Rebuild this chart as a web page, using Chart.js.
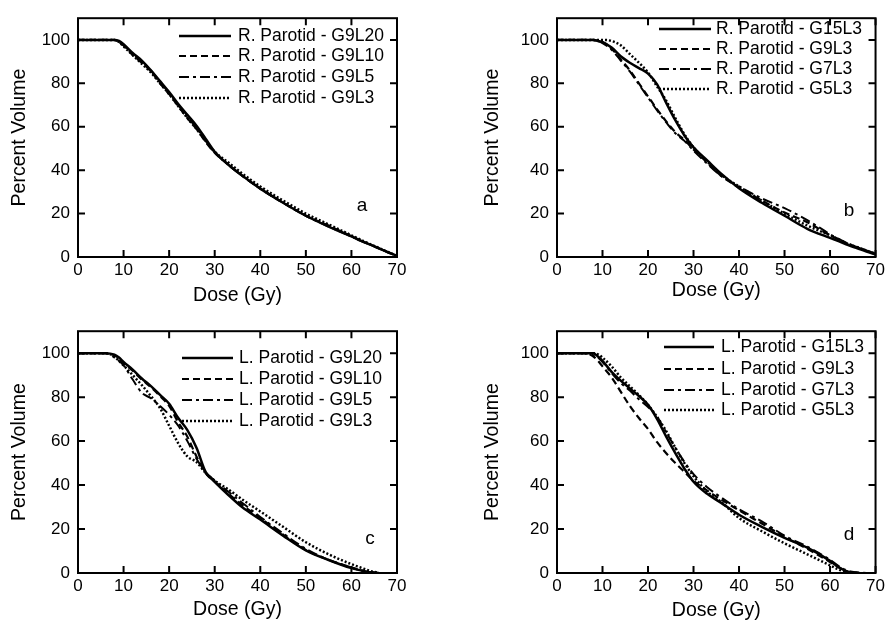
<!DOCTYPE html>
<html>
<head>
<meta charset="utf-8">
<script src="https://cdn.jsdelivr.net/npm/chart.js@4.4.1/dist/chart.umd.min.js"></script>
<style>
  html, body { margin: 0; padding: 0; background: #fff; }
  #wrap { position: relative; width: 888px; height: 626px; }
  canvas { position: absolute; }
</style>
</head>
<body>
<div id="wrap">
  <canvas id="pa" width="444" height="313" style="left:0;top:0"></canvas>
  <canvas id="pb" width="444" height="313" style="left:444px;top:0"></canvas>
  <canvas id="pc" width="444" height="313" style="left:0;top:313px"></canvas>
  <canvas id="pd" width="444" height="313" style="left:444px;top:313px"></canvas>
</div>
<script>
// dose grid (Gy) shared by every curve
const dose = [0, 6, 8, 9, 10, 12, 14, 16, 18, 20, 22, 24, 26, 28, 30, 33, 36, 40, 45, 50, 55, 60, 62, 64, 66, 68, 70];

// panel a - right parotid, leaf width varied
const aG9L20 = [100, 100, 100, 99.5, 98, 94, 90.5, 86, 81, 76, 70.5, 65.5, 60.5, 54.5, 48.5, 42.5, 37.5, 31.5, 25, 19, 14, 9.5, 7.5, 5.8, 4, 2.2, 0.5];
const aG9L10 = [100, 100, 100, 99, 97.5, 93, 89.5, 85.5, 80, 75, 69.5, 64, 59, 53, 48, 42.5, 37.5, 31.5, 25, 19, 14.5, 9.5, 7.5, 5.8, 4, 2.2, 0.5];
const aG9L5 = [100, 100, 100, 99, 97.5, 93.5, 90, 86, 80.5, 75.5, 70, 64.5, 59.5, 53.5, 48, 42.5, 37.5, 31.5, 25, 19, 14, 9.5, 7.5, 5.8, 4, 2.2, 0.5];
const aG9L3 = [100, 100, 100, 99, 97, 93, 89, 85, 80, 75, 69.5, 64, 59, 53.5, 48.5, 43.5, 38.5, 32.5, 26, 20, 15, 10, 8, 6, 4.2, 2.3, 0.5];

// panel b - right parotid, gantry angles varied
const bG15L3 = [100, 100, 100, 99.5, 99, 96.5, 92.5, 89.5, 87, 84.5, 79.5, 71, 63, 56, 50.5, 44.5, 38.5, 31.7, 25, 19, 13, 8.8, 7.2, 5.5, 4, 2.5, 1.2];
const bG9L3 = [100, 100, 100, 99.5, 99, 96, 91, 86, 80, 74, 68, 62.5, 57.5, 54, 49.5, 43.5, 37.5, 32, 26, 20.5, 16, 10, 8, 6, 4.5, 3, 1.5];
const bG7L3 = [100, 100, 100, 99.5, 98.5, 95.5, 90.5, 85.5, 79.5, 73.5, 67.5, 62, 57, 53.5, 49, 43, 37.5, 32.5, 27, 22.5, 17, 10.5, 8.2, 6.2, 4.5, 3, 1.5];
const bG5L3 = [100, 100, 100, 100, 100, 99.5, 97.5, 93.5, 89.5, 85, 78.5, 72, 64, 56.5, 50.5, 44, 38, 32.5, 26, 20, 14.5, 10, 8, 6, 4.5, 3, 1.5];

// panel c - left parotid, leaf width varied
const cG9L20 = [100, 100, 99.3, 98, 96, 92.5, 88.5, 85, 81, 77, 70.5, 65, 57, 46, 41.5, 35.5, 30, 24.3, 17, 10.3, 5.9, 2.2, 1.2, 0.3, 0, null, null];
const cG9L10 = [100, 100, 99, 97.5, 95.5, 92, 88, 84.5, 80.5, 76, 68.5, 62, 53, 45.5, 41.5, 36, 31, 25, 17.5, 10.5, 6, 2.5, 1.2, 0.4, 0, null, null];
const cG9L5 = [100, 100, 98, 96.5, 94.5, 88, 82, 79.5, 76, 72, 67, 60, 52, 46, 42, 37, 32, 25.5, 18, 11, 6, 2.5, 1.3, 0.4, 0, null, null];
const cG9L3 = [100, 100, 98.5, 96.5, 94.5, 90, 85.5, 80.5, 75, 67, 59, 53, 50.5, 45.5, 42, 38, 33.5, 28, 21, 14, 8.5, 4, 2.5, 1, 0, null, null];

// panel d - left parotid, gantry angles varied
const dG15L3 = [100, 100, 100, 98.5, 96.5, 91.5, 87.5, 84, 80.5, 76.5, 70, 62, 54.5, 47.5, 41.5, 36, 32, 26.5, 21, 16, 11.5, 5.5, 2.5, 0.5, 0, null, null];
const dG9L3 = [100, 100, 98.5, 96.5, 94, 89, 82.5, 76, 70.5, 65.5, 59.5, 54.5, 50, 46, 42, 37.5, 33.5, 28.5, 22.5, 16.5, 11, 5, 2.5, 0.5, 0, null, null];
const dG7L3 = [100, 100, 99, 98, 96, 91, 86.5, 83, 79, 75.5, 71, 64, 57, 50.5, 45, 39, 34.5, 29, 23.5, 17, 12, 6, 3, 1, 0.3, 0, null];
const dG5L3 = [100, 100, 100, 99.5, 98, 94, 89, 85, 81, 76.5, 71, 64.5, 57, 50, 44, 37, 32.5, 25, 19, 13.5, 8.5, 3.5, 1.5, 0.3, 0, null, null];

const FONT = "'Liberation Sans', Arial, sans-serif";

// line styles: solid, dashed, dash-dot, dotted
const styles = [
  { width: 2.5, dash: [] },
  { width: 2.2, dash: [7, 4] },
  { width: 2, dash: [10, 4, 3, 4] },
  { width: 2.5, dash: [2, 2] }
];

// frame with inward ticks, legend inside the plot, panel letter
const panelDecor = {
  id: 'panelDecor',
  afterDatasetsDraw(chart, args, o) {
    const { ctx, chartArea: a, scales: { x, y } } = chart;
    ctx.save();
    ctx.strokeStyle = '#000';
    ctx.lineWidth = 2;
    ctx.setLineDash([]);
    ctx.strokeRect(a.left, a.top, a.right - a.left, a.bottom - a.top);
    ctx.beginPath();
    x.ticks.forEach(t => {
      const px = x.getPixelForValue(t.value);
      ctx.moveTo(px, a.bottom); ctx.lineTo(px, a.bottom - 7);
      ctx.moveTo(px, a.top); ctx.lineTo(px, a.top + 7);
    });
    y.ticks.forEach(t => {
      const py = y.getPixelForValue(t.value);
      ctx.moveTo(a.left, py); ctx.lineTo(a.left + 7, py);
      ctx.moveTo(a.right, py); ctx.lineTo(a.right - 7, py);
    });
    ctx.stroke();

    // legend
    ctx.font = '17.5px ' + FONT;
    ctx.fillStyle = '#000';
    ctx.textBaseline = 'middle';
    chart.data.datasets.forEach((ds, i) => {
      const ry = o.rows[i];
      ctx.beginPath();
      ctx.lineWidth = ds.borderWidth;
      ctx.setLineDash(ds.borderDash);
      ctx.moveTo(o.x1, ry);
      ctx.lineTo(o.x2, ry);
      ctx.stroke();
      ctx.fillText(ds.label, o.tx, ry);
    });

    ctx.font = '19px ' + FONT;
    ctx.textBaseline = 'alphabetic';
    ctx.textAlign = 'center';
    ctx.fillText(o.letter, o.lx, o.ly);
    ctx.restore();
  }
};

function makePanel(id, labels, series, cfg) {
  new Chart(document.getElementById(id), {
    type: 'line',
    data: {
      datasets: series.map((vals, i) => ({
        label: labels[i],
        data: dose.map((d, k) => ({ x: d, y: vals[k] })),
        borderColor: '#000',
        borderWidth: styles[i].width,
        borderDash: styles[i].dash,
        pointRadius: 0,
        fill: false,
        cubicInterpolationMode: 'monotone'
      }))
    },
    options: {
      responsive: false,
      animation: false,
      devicePixelRatio: 1,
      layout: { padding: { top: cfg.top, right: cfg.right, left: 0, bottom: 0 } },
      plugins: {
        legend: { display: false },
        tooltip: { enabled: false },
        panelDecor: cfg.decor
      },
      scales: {
        x: {
          type: 'linear', min: 0, max: 70,
          grid: { display: false, drawTicks: false }, border: { display: false },
          ticks: { stepSize: 10, padding: 3, maxRotation: 0, color: '#000', font: { family: FONT, size: 17 } },
          title: { display: true, text: 'Dose (Gy)', color: '#000', font: { family: FONT, size: 19.5 }, padding: { top: 0, bottom: cfg.xPad } },
          afterFit: s => { s.height = cfg.xH; }
        },
        y: {
          min: 0, max: 110,
          grid: { display: false, drawTicks: false }, border: { display: false },
          ticks: { stepSize: 20, includeBounds: false, padding: 8, color: '#000', font: { family: FONT, size: 17 } },
          title: { display: true, text: 'Percent Volume', color: '#000', font: { family: FONT, size: 19.5 }, padding: { top: cfg.yPad, bottom: 0 } },
          afterFit: s => { s.width = cfg.yW; }
        }
      }
    },
    plugins: [panelDecor]
  });
}

makePanel('pa',
  ['R. Parotid - G9L20', 'R. Parotid - G9L10', 'R. Parotid - G9L5', 'R. Parotid - G9L3'],
  [aG9L20, aG9L10, aG9L5, aG9L3],
  { top: 7, right: 47, yW: 78, xH: 56, xPad: 6, yPad: 8,
    decor: { x1: 179, x2: 231, tx: 238, rows: [36, 56, 77, 98], letter: 'a', lx: 362, ly: 211 } });

makePanel('pb',
  ['R. Parotid - G15L3', 'R. Parotid - G9L3', 'R. Parotid - G7L3', 'R. Parotid - G5L3'],
  [bG15L3, bG9L3, bG7L3, bG5L3],
  { top: 7, right: 12, yW: 113, xH: 56, xPad: 11, yPad: 37,
    decor: { x1: 215, x2: 267, tx: 272, rows: [29, 49, 69, 89], letter: 'b', lx: 405, ly: 216 } });

makePanel('pc',
  ['L. Parotid - G9L20', 'L. Parotid - G9L10', 'L. Parotid - G9L5', 'L. Parotid - G9L3'],
  [cG9L20, cG9L10, cG9L5, cG9L3],
  { top: 12, right: 47, yW: 78, xH: 53, xPad: 5, yPad: 8,
    decor: { x1: 182, x2: 233, tx: 239, rows: [45, 66, 87, 108], letter: 'c', lx: 370, ly: 231 } });

makePanel('pd',
  ['L. Parotid - G15L3', 'L. Parotid - G9L3', 'L. Parotid - G7L3', 'L. Parotid - G5L3'],
  [dG15L3, dG9L3, dG7L3, dG5L3],
  { top: 12, right: 12, yW: 113, xH: 53, xPad: 4, yPad: 37,
    decor: { x1: 220, x2: 270, tx: 277, rows: [34, 56, 77, 97], letter: 'd', lx: 405, ly: 227 } });
</script>
</body>
</html>
